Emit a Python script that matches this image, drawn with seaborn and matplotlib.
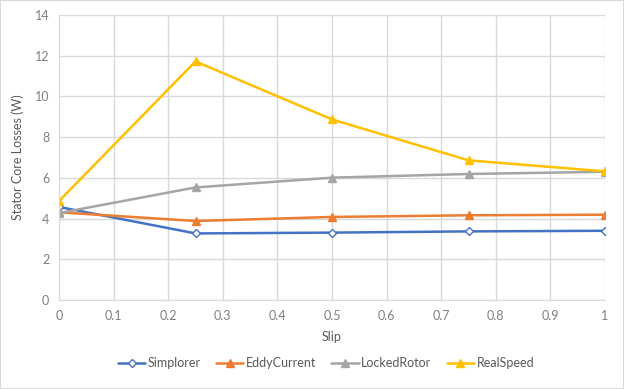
import pandas as pd
import matplotlib
matplotlib.use("Agg")
import matplotlib.pyplot as plt
import seaborn as sns

slip = [0, 0.25, 0.5, 0.75, 1]
simplorer = [4.57, 3.27, 3.31, 3.37, 3.40]
eddy_current = [4.31, 3.88, 4.08, 4.16, 4.19]
locked_rotor = [4.27, 5.53, 6.01, 6.19, 6.30]
real_speed = [4.86, 11.72, 8.87, 6.86, 6.32]

series = ["Simplorer", "EddyCurrent", "LockedRotor", "RealSpeed"]
values = [simplorer, eddy_current, locked_rotor, real_speed]

rows = []
for name, vals in zip(series, values):
    for s, v in zip(slip, vals):
        rows.append({"Slip": s, "Loss": v, "Series": name})
df = pd.DataFrame(rows)

sns.set_style("white")
plt.rcParams["font.family"] = ["Lato", "DejaVu Sans"]

colors = {"Simplorer": "#4472C4", "EddyCurrent": "#ED7D31",
          "LockedRotor": "#A5A5A5", "RealSpeed": "#FFC000"}
markers = {"Simplorer": "D", "EddyCurrent": "^",
           "LockedRotor": "^", "RealSpeed": "^"}

fig = plt.figure(figsize=(6.24, 3.89), dpi=100)
ax = fig.add_axes([59 / 624, 1 - 300 / 389, 546 / 624, 285 / 389])

sns.lineplot(data=df, x="Slip", y="Loss", hue="Series", style="Series",
             palette=colors, markers=markers, dashes=False, ax=ax,
             linewidth=1.8, markersize=6, markeredgewidth=1, legend=False)

# hollow diamond for Simplorer
for i, l in enumerate(ax.get_lines()):
    l.set_markeredgecolor(l.get_color())
    if i == 0:
        l.set_markerfacecolor("white")
        l.set_markersize(4.5)

ax.set_xlim(0, 1)
ax.set_ylim(0, 14)
ax.set_xticks([i / 10 for i in range(11)])
ax.set_xticklabels(["0", "0.1", "0.2", "0.3", "0.4", "0.5", "0.6", "0.7", "0.8", "0.9", "1"])
ax.set_yticks(range(0, 15, 2))
ax.grid(True, color="#D9D9D9", linewidth=1)
ax.set_axisbelow(True)
for side in ["top", "right"]:
    ax.spines[side].set_visible(False)
for side in ["left", "bottom"]:
    ax.spines[side].set_color("#D9D9D9")
ax.tick_params(colors="#7F7F7F", labelsize=9, length=0, pad=7)
ax.set_xlabel("Slip", color="#595959", fontsize=9, labelpad=7)
ax.set_ylabel("Stator Core Losses (W)", color="#595959", fontsize=9, labelpad=8)

handles = []
for name in series:
    h, = ax.plot([], [], color=colors[name], marker=markers[name], linewidth=1.8,
                 markersize=4.5 if name == "Simplorer" else 6,
                 markerfacecolor="white" if name == "Simplorer" else colors[name],
                 markeredgecolor=colors[name])
    handles.append(h)
fig.legend(handles, series, loc="center", bbox_to_anchor=(326 / 624, 1 - 363 / 389),
           ncol=4, frameon=False, fontsize=9, labelcolor="#595959",
           handlelength=2.2, columnspacing=1.2, handletextpad=0.2)

fig.patches.append(plt.Rectangle((0, 0), 1, 1, transform=fig.transFigure,
                                 fill=False, edgecolor="#D9D9D9", linewidth=1.5))
fig.savefig("out.png", dpi=100)
